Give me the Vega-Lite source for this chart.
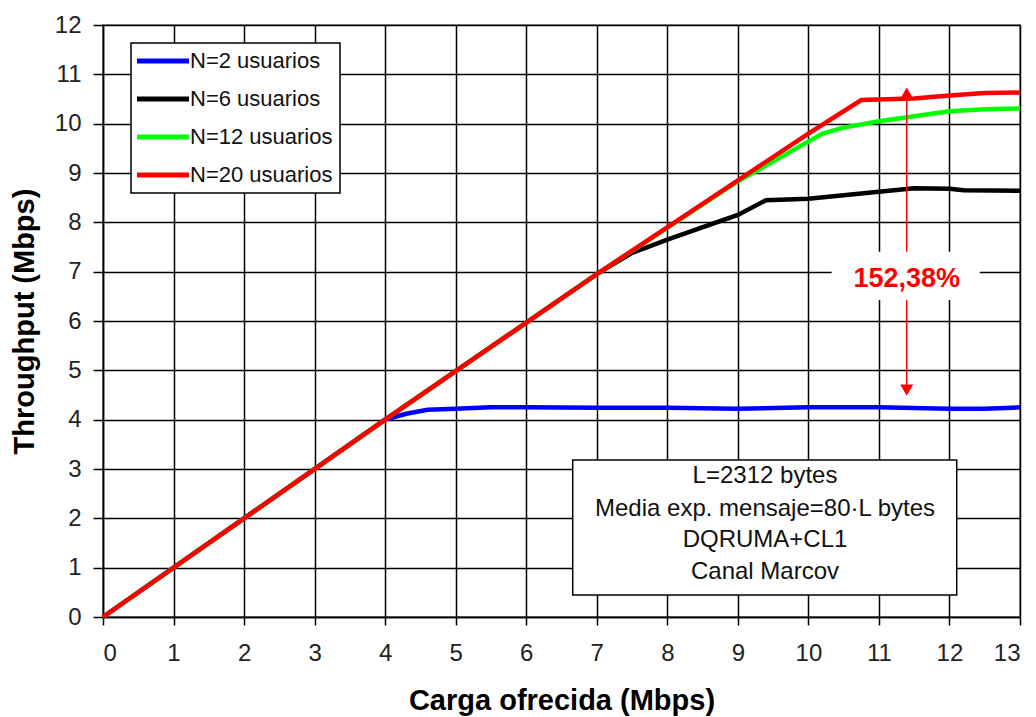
{
  "$schema": "https://vega.github.io/schema/vega-lite/v6.json",
  "width": 917,
  "height": 592,
  "autosize": {"type": "none"},
  "padding": {"left": 103, "top": 25, "right": 16, "bottom": 100},
  "background": "white",
  "config": {
    "font": "Liberation Sans",
    "view": {"stroke": "#999999", "strokeWidth": 2},
    "axis": {
      "grid": true,
      "gridColor": "#000000",
      "gridWidth": 1.5,
      "gridOpacity": 1,
      "domainColor": "#000000",
      "domainWidth": 1.5,
      "tickColor": "#000000",
      "tickWidth": 1.5,
      "labelFont": "Liberation Sans",
      "labelFontSize": 24,
      "labelColor": "#222222",
      "titleFont": "Liberation Sans",
      "titleFontSize": 29,
      "titleFontWeight": "bold",
      "titleColor": "#000000"
    }
  },
  "layer": [
    {
      "data": {"values": [
        {"serie": "N=2 usuarios", "carga": 0, "thr": 0},
        {"serie": "N=2 usuarios", "carga": 4, "thr": 4.0},
        {"serie": "N=2 usuarios", "carga": 4.3, "thr": 4.12},
        {"serie": "N=2 usuarios", "carga": 4.6, "thr": 4.2},
        {"serie": "N=2 usuarios", "carga": 5, "thr": 4.22},
        {"serie": "N=2 usuarios", "carga": 5.5, "thr": 4.25},
        {"serie": "N=2 usuarios", "carga": 6, "thr": 4.25},
        {"serie": "N=2 usuarios", "carga": 7, "thr": 4.24},
        {"serie": "N=2 usuarios", "carga": 8, "thr": 4.24},
        {"serie": "N=2 usuarios", "carga": 9, "thr": 4.22},
        {"serie": "N=2 usuarios", "carga": 10, "thr": 4.25},
        {"serie": "N=2 usuarios", "carga": 11, "thr": 4.25},
        {"serie": "N=2 usuarios", "carga": 12, "thr": 4.22},
        {"serie": "N=2 usuarios", "carga": 12.5, "thr": 4.22},
        {"serie": "N=2 usuarios", "carga": 13, "thr": 4.25},
        {"serie": "N=6 usuarios", "carga": 0, "thr": 0},
        {"serie": "N=6 usuarios", "carga": 4, "thr": 4.0},
        {"serie": "N=6 usuarios", "carga": 7, "thr": 6.95},
        {"serie": "N=6 usuarios", "carga": 7.5, "thr": 7.38},
        {"serie": "N=6 usuarios", "carga": 8, "thr": 7.65},
        {"serie": "N=6 usuarios", "carga": 9, "thr": 8.15},
        {"serie": "N=6 usuarios", "carga": 9.4, "thr": 8.45},
        {"serie": "N=6 usuarios", "carga": 10, "thr": 8.48},
        {"serie": "N=6 usuarios", "carga": 10.5, "thr": 8.55},
        {"serie": "N=6 usuarios", "carga": 11, "thr": 8.62},
        {"serie": "N=6 usuarios", "carga": 11.5, "thr": 8.69},
        {"serie": "N=6 usuarios", "carga": 12, "thr": 8.68},
        {"serie": "N=6 usuarios", "carga": 12.2, "thr": 8.65},
        {"serie": "N=6 usuarios", "carga": 13, "thr": 8.64},
        {"serie": "N=12 usuarios", "carga": 0, "thr": 0},
        {"serie": "N=12 usuarios", "carga": 4, "thr": 4.0},
        {"serie": "N=12 usuarios", "carga": 7, "thr": 6.95},
        {"serie": "N=12 usuarios", "carga": 9, "thr": 8.83},
        {"serie": "N=12 usuarios", "carga": 10.2, "thr": 9.8},
        {"serie": "N=12 usuarios", "carga": 10.5, "thr": 9.92},
        {"serie": "N=12 usuarios", "carga": 11, "thr": 10.05},
        {"serie": "N=12 usuarios", "carga": 11.5, "thr": 10.15},
        {"serie": "N=12 usuarios", "carga": 12, "thr": 10.25},
        {"serie": "N=12 usuarios", "carga": 12.5, "thr": 10.29},
        {"serie": "N=12 usuarios", "carga": 13, "thr": 10.31},
        {"serie": "N=20 usuarios", "carga": 0, "thr": 0},
        {"serie": "N=20 usuarios", "carga": 4, "thr": 4.0},
        {"serie": "N=20 usuarios", "carga": 7, "thr": 6.95},
        {"serie": "N=20 usuarios", "carga": 9, "thr": 8.85},
        {"serie": "N=20 usuarios", "carga": 10, "thr": 9.8},
        {"serie": "N=20 usuarios", "carga": 10.75, "thr": 10.48},
        {"serie": "N=20 usuarios", "carga": 11.5, "thr": 10.51},
        {"serie": "N=20 usuarios", "carga": 12, "thr": 10.57},
        {"serie": "N=20 usuarios", "carga": 12.5, "thr": 10.62},
        {"serie": "N=20 usuarios", "carga": 13, "thr": 10.63}
      ]},
      "mark": {"type": "line", "strokeWidth": 4.5},
      "encoding": {
        "x": {
          "field": "carga", "type": "quantitative",
          "scale": {"domain": [0, 13], "nice": false},
          "axis": {"values": [0,1,2,3,4,5,6,7,8,9,10,11,12,13], "format": "d", "title": "Carga ofrecida (Mbps)", "tickSize": 8, "labelPadding": 16, "titlePadding": 21}
        },
        "y": {
          "field": "thr", "type": "quantitative",
          "scale": {"domain": [0, 12], "nice": false},
          "axis": {"values": [0,1,2,3,4,5,6,7,8,9,10,11,12], "format": "d", "title": "Throughput (Mbps)", "tickSize": 10, "labelPadding": 12, "titlePadding": 15}
        },
        "color": {
          "field": "serie", "type": "nominal",
          "scale": {"domain": ["N=2 usuarios", "N=6 usuarios", "N=12 usuarios", "N=20 usuarios"], "range": ["#0000ff", "#000000", "#00ff00", "#ff0000"]},
          "legend": {
            "title": null,
            "orient": "none",
            "legendX": 28,
            "legendY": 18,
            "fillColor": "#ffffff",
            "strokeColor": "#000000",
            "padding": 7,
            "symbolType": "M-1.5,0H5",
            "symbolSize": 256,
            "symbolStrokeWidth": 5,
            "labelFont": "Liberation Sans",
            "labelFontSize": 22,
            "labelColor": "#111111",
            "labelOffset": 30,
            "rowPadding": 16,
            "encode": {"legend": {"update": {"strokeWidth": {"value": 1.5}}}}
          }
        },
        "order": {"field": "serie", "sort": "ascending"}
      }
    },
    {
      "data": {"values": [{"x1": 6.659, "x2": 12.103, "y1": 3.182, "y2": 0.446}]},
      "mark": {"type": "rect", "fill": "#ffffff", "stroke": "#000000", "strokeWidth": 1.5},
      "encoding": {
        "x": {"field": "x1", "type": "quantitative"},
        "x2": {"field": "x2"},
        "y": {"field": "y1", "type": "quantitative"},
        "y2": {"field": "y2"}
      }
    },
    {
      "data": {"values": [
        {"t": "L=2312 bytes", "x": 9.385, "y": 2.716},
        {"t": "Media exp. mensaje=80·L bytes", "x": 9.385, "y": 2.047},
        {"t": "DQRUMA+CL1", "x": 9.385, "y": 1.419},
        {"t": "Canal Marcov", "x": 9.385, "y": 0.77}
      ]},
      "mark": {"type": "text", "fontSize": 24, "font": "Liberation Sans", "color": "#111111", "align": "center", "baseline": "alphabetic"},
      "encoding": {
        "x": {"field": "x", "type": "quantitative"},
        "y": {"field": "y", "type": "quantitative"},
        "text": {"field": "t"}
      }
    },
    {
      "data": {"values": [{"x": 11.394, "y1": 4.6, "y2": 10.62}]},
      "mark": {"type": "rule", "color": "#ff0000", "strokeWidth": 1.5},
      "encoding": {
        "x": {"field": "x", "type": "quantitative"},
        "y": {"field": "y1", "type": "quantitative"},
        "y2": {"field": "y2"}
      }
    },
    {
      "data": {"values": [
        {"x": 11.394, "y": 10.62, "s": "triangle-up"},
        {"x": 11.394, "y": 4.6, "s": "triangle-down"}
      ]},
      "mark": {"type": "point", "filled": true, "color": "#ff0000", "size": 170, "opacity": 1},
      "encoding": {
        "x": {"field": "x", "type": "quantitative"},
        "y": {"field": "y", "type": "quantitative"},
        "shape": {"field": "s", "type": "nominal", "scale": {"domain": ["triangle-up", "triangle-down"], "range": ["triangle-up", "triangle-down"]}, "legend": null}
      }
    },
    {
      "data": {"values": [{"x1": 10.33, "x2": 12.43, "y1": 7.405, "y2": 6.426}]},
      "mark": {"type": "rect", "fill": "#ffffff"},
      "encoding": {
        "x": {"field": "x1", "type": "quantitative"},
        "x2": {"field": "x2"},
        "y": {"field": "y1", "type": "quantitative"},
        "y2": {"field": "y2"}
      }
    },
    {
      "data": {"values": [{"t": "152,38%", "x": 11.394, "y": 6.69}]},
      "mark": {"type": "text", "fontSize": 27, "font": "Liberation Sans", "fontWeight": "bold", "color": "#ff0000", "align": "center", "baseline": "alphabetic"},
      "encoding": {
        "x": {"field": "x", "type": "quantitative"},
        "y": {"field": "y", "type": "quantitative"},
        "text": {"field": "t"}
      }
    }
  ]
}
